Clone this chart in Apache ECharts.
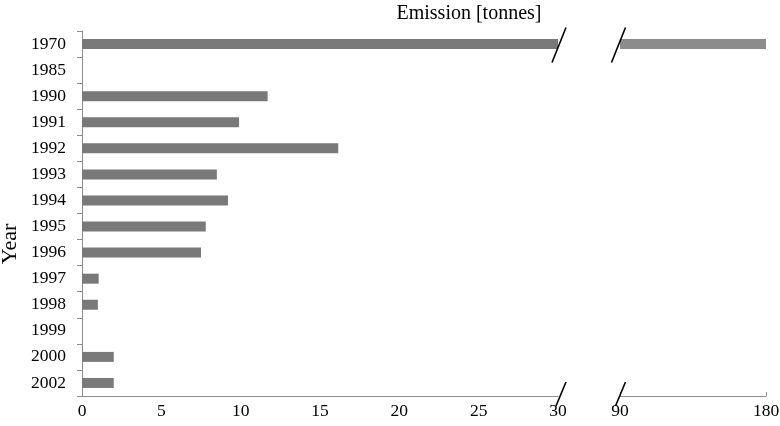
<!DOCTYPE html>
<html>
<head>
<meta charset="utf-8">
<script src="https://cdn.jsdelivr.net/npm/echarts@6/dist/echarts.min.js"></script>
<style>html,body{margin:0;padding:0;background:#fff;}#c{width:780px;height:426px;}</style>
</head>
<body>
<div id="c"></div>
<script>
const years = ['1970','1985','1990','1991','1992','1993','1994','1995','1996','1997','1998','1999','2000','2002'];
const emission = [180, 0, 11.7, 9.9, 16.15, 8.5, 9.2, 7.8, 7.5, 1.05, 1.0, 0, 2.0, 2.0];
const leftTicks = {min: 0, max: 30, interval: 5};
const rightTicks = {min: 90, max: 180, interval: 90};
const FONT = '"Liberation Serif", "DejaVu Serif", serif';

const chart = echarts.init(document.getElementById('c'));
const axisColor = '#8c8c8c';
const option = {
  animation: false,
  title: {
    text: 'Emission [tonnes]', left: 464, top: -1, textAlign: 'center',
    textStyle: {fontFamily: FONT, fontSize: 20, fontWeight: 'normal', color: '#000'}
  },
  grid: [
    {left: 82, top: 31, width: 476, bottom: 30, outerBoundsMode: 'none', containLabel: false},
    {left: 620, top: 31, width: 146, bottom: 30, outerBoundsMode: 'none', containLabel: false}
  ],
  xAxis: [
    {gridIndex: 0, type: 'value', min: leftTicks.min, max: leftTicks.max, interval: leftTicks.interval,
     splitLine: {show: false}, axisTick: {show: false},
     axisLine: {show: true, lineStyle: {color: axisColor}},
     axisLabel: {fontFamily: FONT, fontSize: 17.5, color: '#000', margin: 6}},
    {gridIndex: 1, type: 'value', min: rightTicks.min, max: rightTicks.max, interval: rightTicks.interval,
     splitLine: {show: false}, axisTick: {show: true, inside: true, length: 4, lineStyle: {color: axisColor}},
     axisLine: {show: true, lineStyle: {color: axisColor}},
     axisLabel: {fontFamily: FONT, fontSize: 17.5, color: '#000', margin: 6}}
  ],
  yAxis: [
    {gridIndex: 0, type: 'category', data: years, inverse: true,
     axisLine: {show: true, lineStyle: {color: axisColor}},
     axisTick: {show: true, length: 5, lineStyle: {color: axisColor}},
     axisLabel: {fontFamily: FONT, fontSize: 17.5, color: '#000', margin: 16}},
    {gridIndex: 1, type: 'category', data: years, inverse: true, show: false}
  ],
  series: [
    {type: 'bar', xAxisIndex: 0, yAxisIndex: 0, data: emission, barWidth: 10, clip: true,
     itemStyle: {color: '#797979'}},
    {type: 'bar', xAxisIndex: 1, yAxisIndex: 1, data: emission.map(v => v >= rightTicks.min ? v : null),
     barWidth: 10, clip: true, itemStyle: {color: '#8c8c8c'}}
  ]
};
chart.setOption(option);

function slash(cx, cy, dx, dy) {
  return {type: 'line', shape: {x1: cx - dx, y1: cy + dy, x2: cx + dx, y2: cy - dy},
          style: {stroke: '#000', lineWidth: 1.6}, z: 100};
}
const xL = chart.convertToPixel({xAxisIndex: 0}, leftTicks.max);
const xR = chart.convertToPixel({xAxisIndex: 1}, rightTicks.min);
const yTop = chart.convertToPixel({yAxisIndex: 0}, years[0]);
const yBot = chart.convertToPixel({yAxisIndex: 0}, years[years.length - 1]) + 13;
chart.setOption({
  graphic: [
    slash(xL + 1, yTop + 1, 7, 17.5),
    slash(xR - 1.5, yTop + 1, 7, 17.5),
    slash(xL + 3, yBot - 2, 5, 12),
    slash(xR + 0.5, yBot - 2, 5, 12),
    {type: 'text', x: 10, y: 244, rotation: Math.PI / 2,
     style: {text: 'Year', font: '22px ' + FONT, fill: '#000', align: 'center', verticalAlign: 'middle'}}
  ]
});
</script>
</body>
</html>
